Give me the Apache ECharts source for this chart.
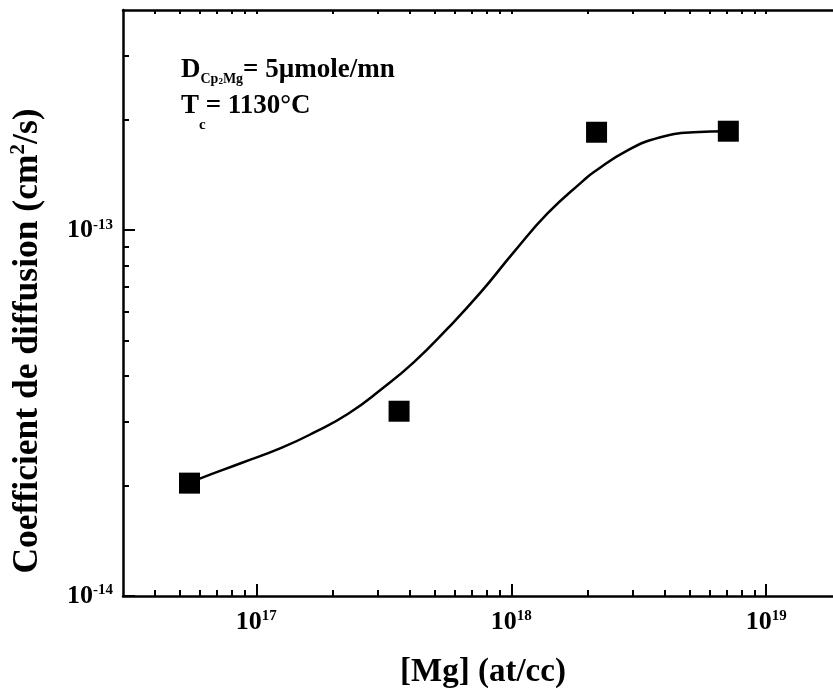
<!DOCTYPE html>
<html><head><meta charset="utf-8">
<script src="https://cdn.jsdelivr.net/npm/echarts@6/dist/echarts.min.js"></script>
<style>html,body{margin:0;padding:0;background:#fff}#c{width:833px;height:688px}</style>
</head><body><div id="c"></div>
<script>
// ---- data ----
const mgConc = [5.47e16, 3.63e17, 2.16e18, 7.10e18];
const diffCoef = [2.035e-14, 3.20e-14, 1.853e-13, 1.865e-13];
const fitX = [5.47e16, 5.93e16, 8.74e16, 1.253e17, 1.687e17, 2.292e17, 3.085e17, 4.153e17, 5.642e17, 7.597e17, 1.023e18, 1.390e18, 1.922e18, 2.103e18, 2.858e18, 3.847e18, 5.180e18, 7.10e18];
const fitY = [2.035e-14, 2.088e-14, 2.31e-14, 2.54e-14, 2.80e-14, 3.15e-14, 3.67e-14, 4.36e-14, 5.398e-14, 6.77e-14, 8.71e-14, 1.113e-13, 1.369e-13, 1.440e-13, 1.654e-13, 1.795e-13, 1.853e-13, 1.865e-13];
const xMajorTicks = [1e17, 1e18, 1e19];
const xMinorTicks = [4e16,5e16,6e16,7e16,8e16,9e16,2e17,3e17,4e17,5e17,6e17,7e17,8e17,9e17,2e18,3e18,4e18,5e18,6e18,7e18,8e18,9e18];
const yMajorTicks = [1e-14, 1e-13];
const yMinorTicks = [2e-14,3e-14,4e-14,5e-14,6e-14,7e-14,8e-14,9e-14,2e-13,3e-13];

const FONT = '"Liberation Serif","Times New Roman",serif';
const black = '#000';
const expFmt = v => '{b|10}{s|' + Math.round(Math.log10(v)) + '}';
const labelRich = {
  b: {fontFamily: FONT, fontWeight: 'bold', fontSize: 26, color: black, verticalAlign: 'bottom'},
  s: {fontFamily: FONT, fontWeight: 'bold', fontSize: 15, color: black, verticalAlign: 'bottom', padding: [0,0,11,0]}
};
const XMIN = 3e16, XMAX = 2e19, YMIN = 1e-14, YMAX = 4e-13;

const chart = echarts.init(document.getElementById('c'), null, {renderer: 'canvas'});
chart.setOption({
  animation: false,
  backgroundColor: '#fff',
  grid: {left: 123, top: 10, right: -10, bottom: 92, containLabel: false, outerBoundsMode: 'none'},
  xAxis: [
    {type: 'log', logBase: 10, min: XMIN, max: XMAX, position: 'bottom',
     axisLine: {show: true, onZero: false, lineStyle: {color: black, width: 2.5}},
     axisTick: {show: true, inside: true, length: 12, lineStyle: {color: black, width: 2}, customValues: xMajorTicks},
     axisLabel: {show: true, margin: 13, customValues: xMajorTicks, formatter: expFmt, rich: labelRich},
     splitLine: {show: false}, minorTick: {show: false},
     name: '[Mg] (at/cc)', nameLocation: 'middle', nameGap: 60,
     nameTextStyle: {fontFamily: FONT, fontWeight: 'bold', fontSize: 33, color: black}},
    {type: 'log', logBase: 10, min: XMIN, max: XMAX, position: 'bottom',
     axisLine: {show: false},
     axisTick: {show: true, inside: true, length: 6, lineStyle: {color: black, width: 2}, customValues: xMinorTicks},
     axisLabel: {show: false}, splitLine: {show: false}},
    {type: 'log', logBase: 10, min: XMIN, max: XMAX, position: 'top',
     axisLine: {show: true, onZero: false, lineStyle: {color: black, width: 2.5}},
     axisTick: {show: true, inside: true, length: 4, lineStyle: {color: black, width: 2}, customValues: xMinorTicks.concat(xMajorTicks)},
     axisLabel: {show: false}, splitLine: {show: false}}
  ],
  yAxis: [
    {type: 'log', logBase: 10, min: YMIN, max: YMAX, position: 'left',
     axisLine: {show: true, onZero: false, lineStyle: {color: black, width: 2.5}},
     axisTick: {show: true, inside: true, length: 12, lineStyle: {color: black, width: 2}, customValues: yMajorTicks},
     axisLabel: {show: true, margin: 10, customValues: yMajorTicks, formatter: expFmt, rich: labelRich},
     splitLine: {show: false}, minorTick: {show: false},
     name: '{a|Coefficient de diffusion (cm}{s|2}{a|/s)}', nameLocation: 'middle', nameGap: 77,
     nameTextStyle: {padding: [0, 76, 0, 0], rich: {
       a: {fontFamily: FONT, fontWeight: 'bold', fontSize: 35.5, color: black, verticalAlign: 'bottom'},
       s: {fontFamily: FONT, fontWeight: 'bold', fontSize: 21, color: black, verticalAlign: 'bottom', padding: [0,0,17,0]}
     }}},
    {type: 'log', logBase: 10, min: YMIN, max: YMAX, position: 'left',
     axisLine: {show: false},
     axisTick: {show: true, inside: true, length: 6, lineStyle: {color: black, width: 2}, customValues: yMinorTicks},
     axisLabel: {show: false}, splitLine: {show: false}}
  ],
  series: [
    {type: 'line', xAxisIndex: 0, yAxisIndex: 0, smooth: 0.5, showSymbol: false, silent: true,
     lineStyle: {color: black, width: 2.5},
     data: fitX.map((x, i) => [x, fitY[i]])},
    {type: 'scatter', xAxisIndex: 0, yAxisIndex: 0, symbol: 'rect', symbolSize: 21,
     itemStyle: {color: black, opacity: 1},
     data: mgConc.map((x, i) => [x, diffCoef[i]])}
  ],
  graphic: [
    {type: 'text', left: 181, top: 57, style: {
      text: '{a|D}{sub|Cp}{sub2|2}{sub|Mg}{a|= 5µmole/mn}',
      rich: {
        a: {fontFamily: FONT, fontWeight: 'bold', fontSize: 27, fill: black, verticalAlign: 'bottom', padding: [0,0,2,0]},
        sub: {fontFamily: FONT, fontWeight: 'bold', fontSize: 14, fill: black, verticalAlign: 'bottom'},
        sub2: {fontFamily: FONT, fontWeight: 'bold', fontSize: 9, fill: black, verticalAlign: 'bottom'}
      }}},
    {type: 'text', left: 181, top: 93, style: {
      text: '{a|T}{sub|c}{a|= 1130°C}',
      rich: {
        a: {fontFamily: FONT, fontWeight: 'bold', fontSize: 27, fill: black, verticalAlign: 'bottom', padding: [0,0,13,0]},
        sub: {fontFamily: FONT, fontWeight: 'bold', fontSize: 15, fill: black, verticalAlign: 'bottom'}
      }}}
  ]
});
</script></body></html>
